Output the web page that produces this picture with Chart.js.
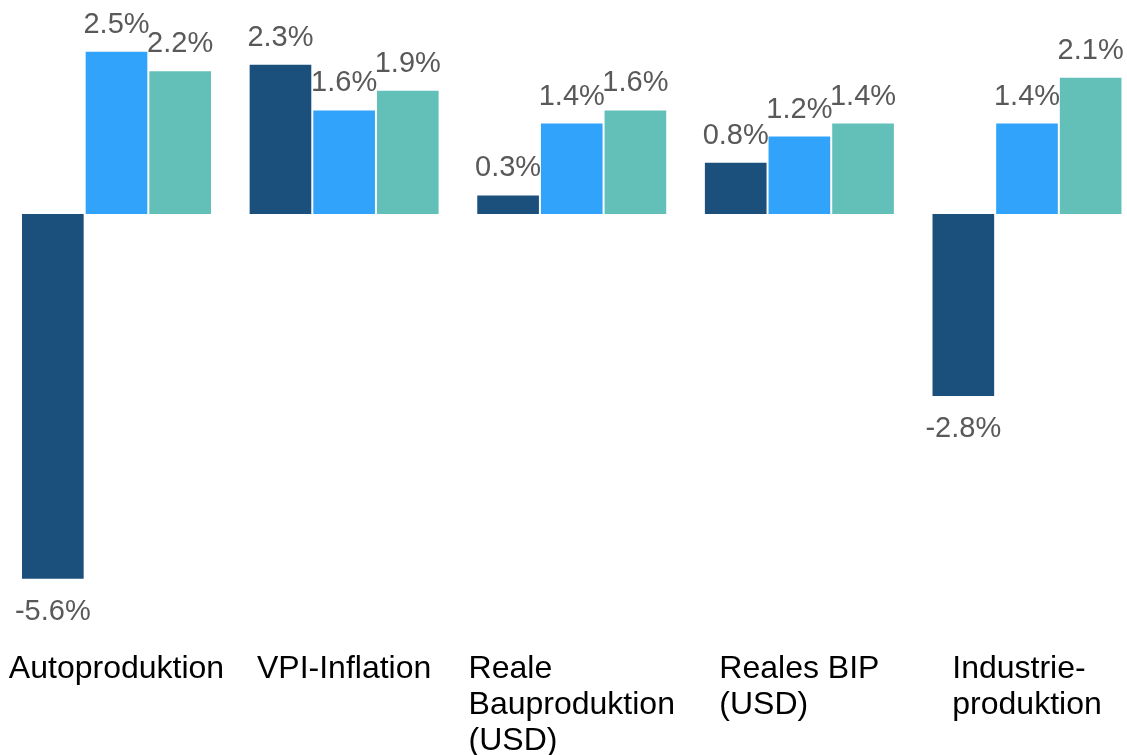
<!DOCTYPE html>
<html>
<head>
<meta charset="utf-8">
<script src="https://cdn.jsdelivr.net/npm/chart.js@4/dist/chart.umd.min.js"></script>
<style>
  html, body { margin: 0; padding: 0; background: #ffffff; overflow: hidden; }
  #wrap { position: relative; width: 1127px; height: 755px; }
</style>
</head>
<body>
<div id="wrap"><canvas id="c"></canvas></div>
<script>
// ---- Data ----
const categories = [
  ["Autoproduktion"],
  ["VPI-Inflation"],
  ["Reale", "Bauproduktion", "(USD)"],
  ["Reales BIP", "(USD)"],
  ["Industrie-", "produktion"]
];
const series1 = [-5.6, 2.3, 0.3, 0.8, -2.8];
const series2 = [2.5, 1.6, 1.4, 1.2, 1.4];
const series3 = [2.2, 1.9, 1.6, 1.4, 2.1];
const seriesNames = ["Serie 1", "Serie 2", "Serie 3"];
const seriesColors = ["#1b4f7c", "#31a3fb", "#62c0b9"];

const FONT = "'Liberation Sans', Arial, Helvetica, sans-serif";

const valueLabels = {
  id: 'valueLabels',
  afterDatasetsDraw(chart) {
    const ctx = chart.ctx;
    ctx.save();
    ctx.font = "29px " + FONT;
    ctx.fillStyle = "#595959";
    ctx.textAlign = "center";
    ctx.textBaseline = "alphabetic";
    chart.data.datasets.forEach((ds, di) => {
      const meta = chart.getDatasetMeta(di);
      meta.data.forEach((bar, i) => {
        const v = ds.data[i];
        const txt = v.toFixed(1) + "%";
        if (v >= 0) {
          ctx.fillText(txt, bar.x, bar.y - 18);
        } else {
          ctx.fillText(txt, bar.x, bar.y + 40);
        }
      });
    });
    ctx.restore();
  }
};

const categoryLabels = {
  id: 'categoryLabels',
  afterDraw(chart) {
    const ctx = chart.ctx;
    const xs = chart.scales.x;
    const area = chart.chartArea;
    ctx.save();
    ctx.font = "32px " + FONT;
    ctx.fillStyle = "#000000";
    ctx.textAlign = "left";
    ctx.textBaseline = "alphabetic";
    const lineH = 36;
    const firstBaseline = area.bottom + 72;
    categories.forEach((lines, i) => {
      const cx = xs.getPixelForValue(i);
      const w = Math.max(...lines.map(l => ctx.measureText(l).width));
      const x0 = cx - w / 2;
      lines.forEach((l, j) => {
        ctx.fillText(l, x0, firstBaseline + j * lineH);
      });
    });
    ctx.restore();
  }
};

new Chart(document.getElementById('c'), {
  type: 'bar',
  data: {
    labels: categories,
    datasets: [series1, series2, series3].map((d, k) => ({
      label: seriesNames[k],
      data: d,
      backgroundColor: seriesColors[k],
      borderColor: "rgba(255,255,255,0.35)",
      borderWidth: 1,
      categoryPercentage: 0.839,
      barPercentage: 1.0,
      clip: false
    }))
  },
  options: {
    responsive: true,
    maintainAspectRatio: false,
    animation: false,
    layout: { padding: { left: 116.5, right: 100, top: 18, bottom: 149 } },
    plugins: {
      legend: { display: false },
      tooltip: { enabled: false },
      title: { display: false }
    },
    scales: {
      x: { type: 'category', offset: false, display: false, grid: { display: false } },
      y: { min: -6, max: 3, display: false, grid: { display: false } }
    }
  },
  plugins: [valueLabels, categoryLabels]
});
</script>
</body>
</html>
